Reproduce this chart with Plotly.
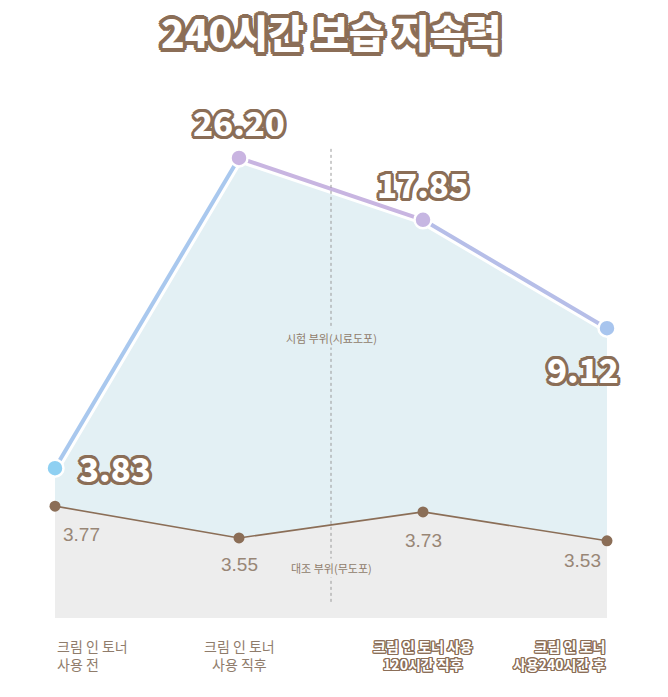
import numpy as np
import plotly.graph_objects as go

# data
stages = [0, 1, 2, 3]
stage_labels = ['크림 인 토너<br>사용 전', '크림 인 토너<br>사용 직후',
                '크림 인 토너 사용<br>120시간 직후', '크림 인 토너<br>사용240시간 후']
test_values = [3.83, 26.20, 17.85, 9.12]      # 시험 부위(시료도포)
control_values = [3.77, 3.55, 3.73, 3.53]     # 대조 부위(무도포)

BROWN = '#8b6e57'
LABEL = '#8f7c6b'
FONT = 'Noto Sans CJK KR'
point_colors = ['#8fd0f2', '#c9b4e1', '#c6b6e2', '#a8c5ee']
segment_colors = ['#a9c8ee', '#c8b5e1', '#b6bee8']


def outline(color, w):
    # fake a text stroke with a ring of text-shadows
    offs = []
    for a in range(0, 360, 30):
        dx = w * np.cos(np.radians(a))
        dy = w * np.sin(np.radians(a))
        offs.append(f'{dx:.1f}px {dy:.1f}px 0 {color}')
    return ', '.join(offs)


fig = go.Figure()

# light blue area under the test line
fig.add_trace(go.Scatter(
    x=stages, y=test_values, mode='lines', fill='tozeroy',
    fillcolor='#e3f0f4', line=dict(width=0), hoverinfo='skip'
))
# white halo under the line
fig.add_trace(go.Scatter(
    x=stages, y=test_values, mode='lines',
    line=dict(color='white', width=10), hoverinfo='skip'
))
for i in range(len(stages) - 1):
    fig.add_trace(go.Scatter(
        x=stages[i:i + 2], y=test_values[i:i + 2], mode='lines',
        line=dict(color=segment_colors[i], width=4), hoverinfo='skip'
    ))
fig.add_trace(go.Scatter(
    x=stages, y=test_values, mode='markers', cliponaxis=False,
    marker=dict(size=17, color=point_colors, line=dict(color='white', width=2.5)),
    name='시험 부위'
))

# control area + line (own axis)
fig.add_trace(go.Scatter(
    x=stages, y=control_values, mode='lines+markers', yaxis='y2',
    fill='tozeroy', fillcolor='#ededed', cliponaxis=False,
    line=dict(color=BROWN, width=1.6),
    marker=dict(size=11, color=BROWN), name='대조 부위'
))

# value labels on the test line
test_pos = [(22, 0, 'left'), (0, 36, 'center'), (0, 36, 'center'), (-24, -41, 'center')]
for x, v, (dx, dy, anc) in zip(stages, test_values, test_pos):
    fig.add_annotation(
        x=x, y=np.log10(v), text=f'{v:.2f}', showarrow=False,
        xanchor=anc, xshift=dx, yshift=dy,
        font=dict(family=FONT, size=33, color='white', weight=900,
                  shadow=outline(BROWN, 3))
    )

# value labels on the control line
ctrl_pos = [(6, -28, 'left'), (0, -27, 'center'), (0, -29, 'center'), (-4, -20, 'right')]
for x, v, (dx, dy, anc) in zip(stages, control_values, ctrl_pos):
    fig.add_annotation(
        x=x, y=v, yref='y2', text=f'{v:.2f}', showarrow=False,
        xanchor=anc, xshift=dx, yshift=dy,
        font=dict(family='Liberation Sans', size=19, color='#988676')
    )

# area names
fig.add_annotation(x=1.5, y=0.52, yref='paper', text='시험 부위(시료도포)',
                   showarrow=False, bgcolor='#e3f0f4',
                   font=dict(family=FONT, size=11, color=LABEL))
fig.add_annotation(x=1.5, y=0.075, yref='paper', text='대조 부위(무도포)',
                   showarrow=False, bgcolor='#ededed',
                   font=dict(family=FONT, size=11, color=LABEL))

# divider between before/after
fig.add_shape(type='line', x0=1.5, x1=1.5, y0=0.03, y1=0.874, yref='paper',
              line=dict(color='#9a9a9a', width=1, dash='3px,3px'), layer='above')

# stage labels under the chart
anchors = ['left', 'center', 'center', 'right']
for i, (x, lab) in enumerate(zip(stages, stage_labels)):
    if i < 2:
        f = dict(family=FONT, size=14, color=LABEL)
    else:
        f = dict(family=FONT, size=14, color='white', weight=700,
                 shadow=outline(BROWN, 1.3))
    fig.add_annotation(x=x, y=-0.03, yref='paper', yanchor='top',
                       text=lab, showarrow=False, xanchor=anchors[i],
                       align=anchors[i], font=f)

# title as a paper annotation so its box stays inside the page
fig.add_annotation(x=0.5, xref='paper', y=1, yref='paper', yshift=49,
                   yanchor='middle', text='240시간 보습 지속력', showarrow=False,
                   font=dict(family=FONT, size=39, color='white', weight=900,
                             shadow=outline(BROWN, 4)))

fig.update_layout(
    width=668, height=697,
    margin=dict(l=55, r=61, t=80, b=79),
    paper_bgcolor='white', plot_bgcolor='white',
    showlegend=False,
    xaxis=dict(range=[0, 3], visible=False, fixedrange=True),
    yaxis=dict(type='log', range=[0.180, 1.628], visible=False, fixedrange=True),
    yaxis2=dict(range=[2.996, 6.719], overlaying='y', visible=False, fixedrange=True),
)

# drop the default page margin so the figure sits at the window's corner
fig.write_html("out.html", config={'displayModeBar': False},
               post_script="document.body.style.margin='0';")
